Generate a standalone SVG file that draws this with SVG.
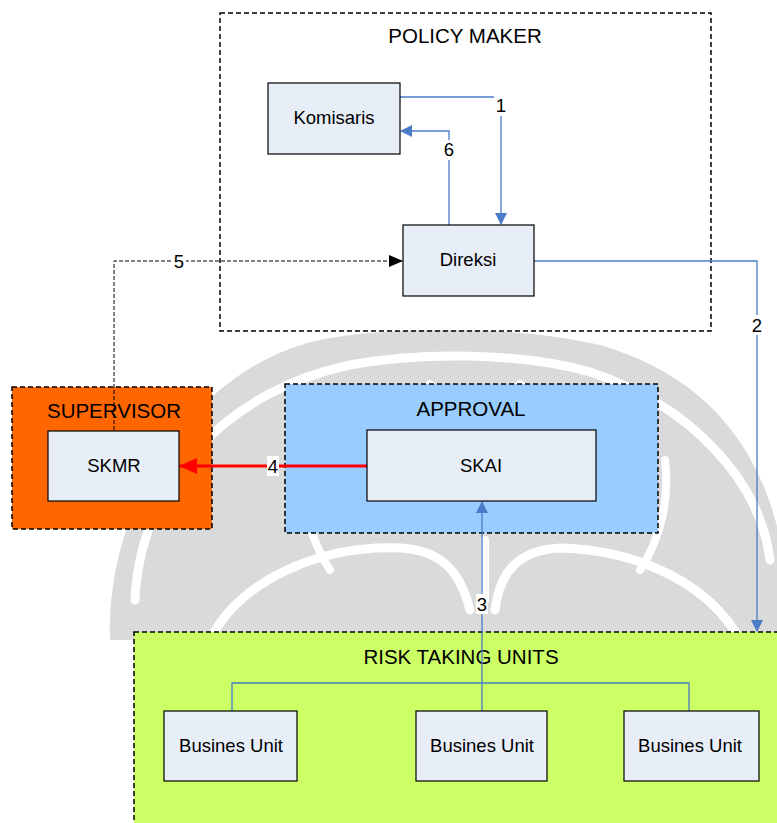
<svg xmlns="http://www.w3.org/2000/svg" width="777" height="823" viewBox="0 0 777 823">
<style>
.grp{stroke:#000;stroke-width:1.5;stroke-dasharray:5,3}
.node{fill:#e8eef8;stroke:#000;stroke-width:1.2}
.t{font-family:"Liberation Sans",Arial,sans-serif;font-size:18.5px;fill:#000;text-anchor:middle;dominant-baseline:central}
.title{font-size:20.5px}
.c{fill:none;stroke:#4a7cc7;stroke-width:1.3}
.lbl{fill:#fff}
.ws{fill:none;stroke:#fff;stroke-linecap:round}
</style>
<defs>
<marker id="ab" markerWidth="12" markerHeight="12" refX="11" refY="6" orient="auto" markerUnits="userSpaceOnUse"><path d="M0,0 L12,6 L0,12 Z" fill="#4a7cc7"/></marker>
<marker id="ak" markerWidth="14" markerHeight="12" refX="13" refY="6" orient="auto" markerUnits="userSpaceOnUse"><path d="M0,0 L14,6 L0,12 Z" fill="#000"/></marker>
<marker id="ar" markerWidth="18" markerHeight="16" refX="17" refY="8" orient="auto" markerUnits="userSpaceOnUse"><path d="M0,0 L18,8 L0,16 Z" fill="#ff0000"/></marker>
</defs>
<rect width="777" height="823" fill="#fff"/>
<g id="watermark">
<path d="M110,640 C105,500 200,360 330,338 C400,326 520,326 600,345 C720,380 790,470 790,640 Z" fill="#dadada"/>
<path class="ws" stroke-width="9" d="M135,600 C140,480 230,390 350,365 C420,352 520,352 590,372 C690,405 760,480 770,560"/>
<path class="ws" stroke-width="9" d="M210,640 C240,580 320,545 400,548 C440,550 460,570 470,610"/>
<path class="ws" stroke-width="9" d="M740,640 C710,585 640,550 560,548 C520,550 500,570 495,610"/>
<path class="ws" stroke-width="10" d="M430,385 C440,410 448,430 452,450"/>
<path class="ws" stroke-width="10" d="M520,385 C512,410 505,430 500,450"/>
<path class="ws" stroke-width="8" d="M485,540 L485,600"/>
<path class="ws" stroke-width="8" d="M305,460 C300,500 310,540 330,570"/>
<path class="ws" stroke-width="8" d="M665,460 C670,500 660,540 640,570"/>
</g>
<g id="policy-maker"><rect class="grp" x="220" y="13" width="491" height="318" fill="none"/><text class="t title" x="465" y="35">POLICY MAKER</text></g>
<g id="supervisor"><rect class="grp" x="12" y="387" width="200" height="142" fill="#ff6600"/><text class="t title" x="114" y="410">SUPERVISOR</text></g>
<g id="approval"><rect class="grp" x="285" y="384" width="373" height="149" fill="#99ccff"/><text class="t title" x="471" y="408">APPROVAL</text></g>
<g id="risk-taking-units"><rect class="grp" x="134" y="632" width="650" height="200" fill="#ccff66"/><text class="t title" x="461" y="656">RISK TAKING UNITS</text></g>
<g id="connectors">
<path class="c" d="M400,97 H501 V224" marker-end="url(#ab)"/>
<path class="c" d="M449,225 V131 H401" marker-end="url(#ab)"/>
<path d="M114,430 V261 H402" fill="none" stroke="#000" stroke-width="1" stroke-dasharray="4,2" marker-end="url(#ak)"/>
<path class="c" d="M534,261 H757 V631" marker-end="url(#ab)"/>
<path d="M367,466 H180" fill="none" stroke="#ff0000" stroke-width="3" marker-end="url(#ar)"/>
<path class="c" d="M482,711 V502" marker-end="url(#ab)"/>
<path class="c" d="M232,711 V683 H689 V711"/>
<rect class="lbl" x="494" y="96" width="14" height="20"/><text class="t" x="501" y="105">1</text>
<rect class="lbl" x="442" y="140" width="14" height="20"/><text class="t" x="449" y="149">6</text>
<rect class="lbl" x="172" y="252" width="14" height="18"/><text class="t" x="179" y="261">5</text>
<rect class="lbl" x="750" y="315" width="14" height="20"/><text class="t" x="757" y="325">2</text>
<rect class="lbl" x="267" y="456" width="12" height="20"/><text class="t" x="273" y="466">4</text>
<rect class="lbl" x="476" y="594" width="12" height="20"/><text class="t" x="482" y="604">3</text>
</g>
<g id="komisaris"><rect class="node" x="268" y="83" width="132" height="71"/><text class="t" x="334" y="117">Komisaris</text></g>
<g id="direksi"><rect class="node" x="403" y="225" width="131" height="71"/><text class="t" x="468" y="259">Direksi</text></g>
<g id="skmr"><rect class="node" x="48" y="431" width="131" height="70"/><text class="t" x="114" y="465">SKMR</text></g>
<g id="skai"><rect class="node" x="367" y="430" width="229" height="71"/><text class="t" x="481" y="465">SKAI</text></g>
<g id="bu1"><rect class="node" x="164" y="711" width="133" height="70"/><text class="t" x="231" y="745">Busines Unit</text></g>
<g id="bu2"><rect class="node" x="416" y="711" width="131" height="70"/><text class="t" x="482" y="745">Busines Unit</text></g>
<g id="bu3"><rect class="node" x="624" y="711" width="135" height="70"/><text class="t" x="690" y="745">Busines Unit</text></g>
</svg>
